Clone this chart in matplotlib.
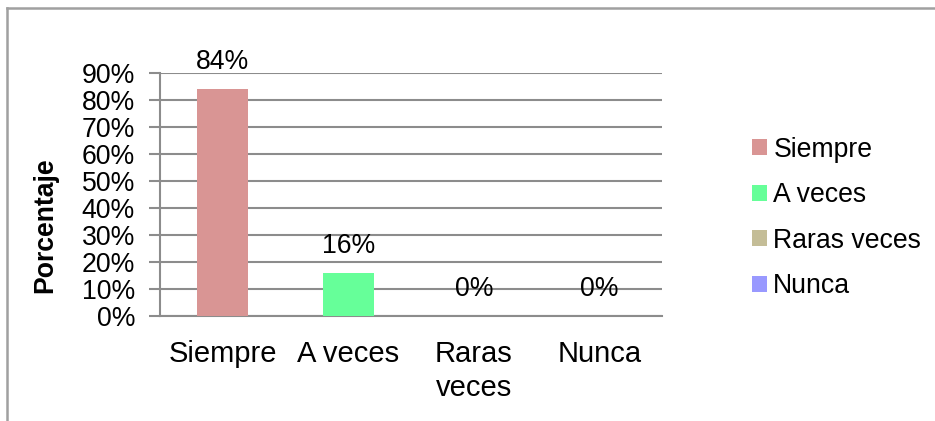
import textwrap
import matplotlib
matplotlib.use("Agg")
import matplotlib.pyplot as plt
from matplotlib.patches import Patch
from matplotlib.lines import Line2D

categories = ["Siempre", "A veces", "Raras veces", "Nunca"]
values = [84, 16, 0, 0]
colors = ["#D99594", "#66FF99", "#C4BD97", "#9999FF"]
yticks = [0, 10, 20, 30, 40, 50, 60, 70, 80, 90]
ylabel = "Porcentaje"

plt.rcParams['font.family'] = ['Liberation Sans', 'DejaVu Sans']
FS = 19.2
FSX = 21
W, H = 935, 421
fig = plt.figure(figsize=(W / 100, H / 100), dpi=100)
fig.patch.set_facecolor("white")

x0, x1, y0, y1 = 160, 662, 316, 73
ax = fig.add_axes([x0 / W, 1 - y0 / H, (x1 - x0) / W, (y0 - y1) / H])

grid_c = "#8C8C8C"
xs = list(range(len(categories)))
ax.bar(xs, values, width=0.41, color=colors, zorder=3)
ax.set_xlim(-0.5, len(categories) - 0.5)
ax.set_ylim(0, 90)
ax.set_yticks(yticks)
ax.set_yticklabels([f"{v}%" for v in yticks], fontsize=FS)
ax.yaxis.grid(True, color=grid_c, linewidth=1.5, zorder=0)
ax.set_axisbelow(True)
ax.set_xticks(xs)
ax.set_xticklabels([textwrap.fill(c, 8) for c in categories], fontsize=FSX,
                   linespacing=1.3)
ax.tick_params(axis='x', length=0, pad=17)
ax.tick_params(axis='y', length=8, width=1.5, color=grid_c, pad=10)
for s in ["top", "right"]:
    ax.spines[s].set_visible(False)
for s in ["left", "bottom"]:
    ax.spines[s].set_color(grid_c)
    ax.spines[s].set_linewidth(1.5)

for x, v in zip(xs, values):
    ax.annotate(f"{v}%", (x, v), xytext=(0, 19.5), textcoords="offset points",
                ha="center", va="center", fontsize=FS)

fig.text(45 / W, 1 - 225 / H, ylabel, rotation=90, fontsize=FS,
         fontweight="bold", ha="center", va="center")

handles = [Patch(facecolor=c, edgecolor="none") for c in colors]
fig.legend(handles, categories, loc="center left",
           bbox_to_anchor=(752 / W, 1 - 218 / H), frameon=False, fontsize=FS,
           handlelength=0.55, handleheight=0.55, handletextpad=0.25,
           labelspacing=0.73, borderaxespad=0, borderpad=0)

border_c = "#A0A0A0"
fig.add_artist(Line2D([7 / W, 1], [1 - 8 / H, 1 - 8 / H], color=border_c,
                      linewidth=1.8, transform=fig.transFigure))
fig.add_artist(Line2D([7 / W, 7 / W], [0, 1 - 8 / H], color=border_c,
                      linewidth=1.8, transform=fig.transFigure))

fig.savefig("out.png", dpi=100)
